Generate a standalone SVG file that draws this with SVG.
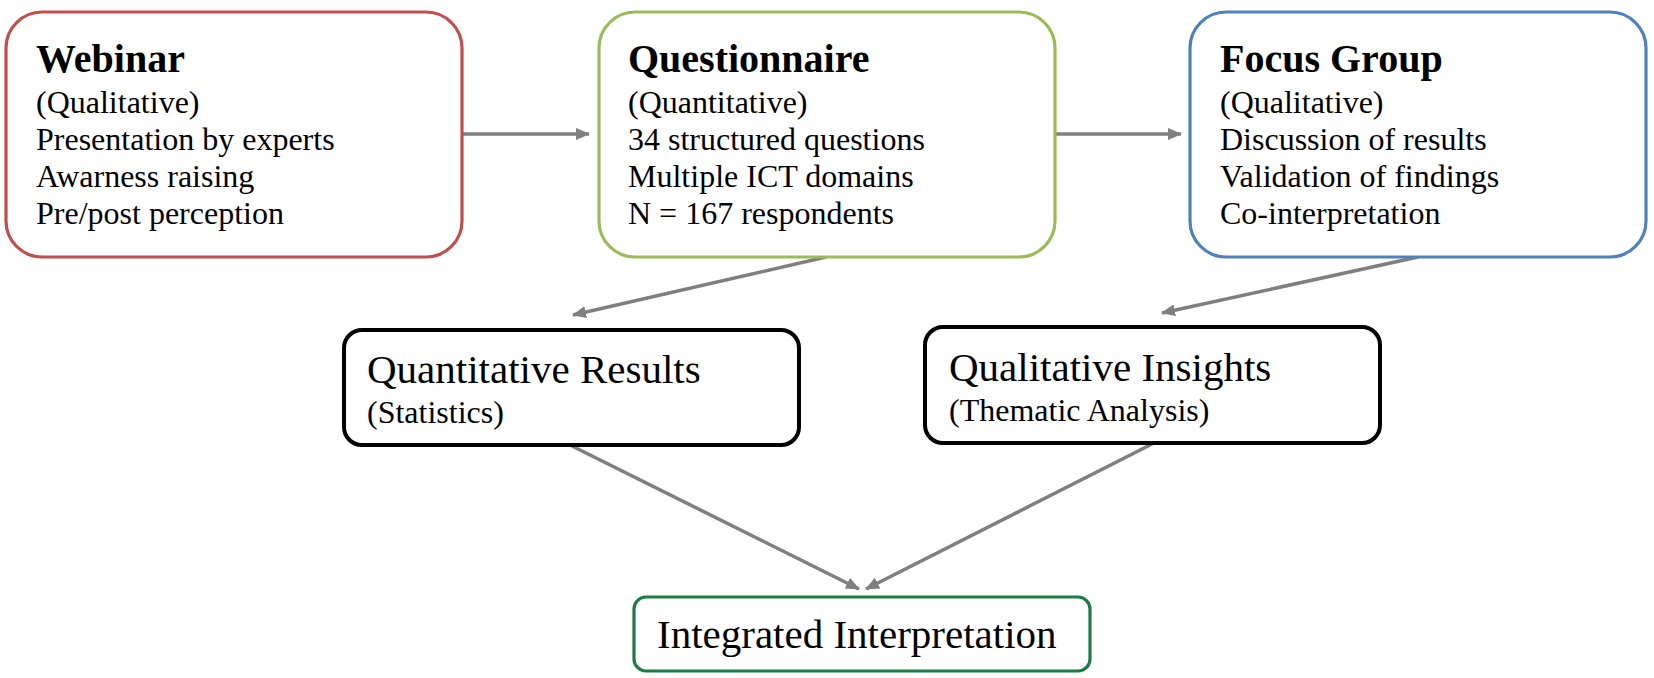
<svg xmlns="http://www.w3.org/2000/svg" width="1654" height="678" viewBox="0 0 1654 678">
<defs>
<style>
.box{fill:#fff;stroke-width:3.2}
.k{stroke-width:4}
.t{font-family:"Liberation Serif","Times New Roman",serif;fill:#000}
.h{font-size:40px;font-weight:bold}
.b{font-size:32px}
.m{font-size:41px}
.s{font-size:32px}
.c{stroke:#7F7F7F;stroke-width:3.5;fill:none;marker-end:url(#ah)}
</style>
<marker id="ah" viewBox="0 0 14 12" refX="13" refY="6" markerWidth="14" markerHeight="12" orient="auto" markerUnits="userSpaceOnUse">
<path d="M0,0 L14,6 L0,12 z" fill="#7F7F7F"/>
</marker>
</defs>
<rect width="1654" height="678" fill="#fff"/>
<g id="connectors">
<line class="c" x1="462" y1="134" x2="589" y2="134"/>
<line class="c" x1="1054" y1="134" x2="1181" y2="134"/>
<line class="c" x1="826" y1="257" x2="573" y2="315"/>
<line class="c" x1="1418" y1="257" x2="1162" y2="313"/>
<line class="c" x1="572" y1="446" x2="859" y2="589"/>
<line class="c" x1="1152" y1="444" x2="866" y2="589"/>
</g>
<g id="webinar">
<rect class="box" x="6" y="12" width="456" height="245" rx="36" stroke="#C0504D"/>
<text class="t h" x="36" y="72">Webinar</text>
<text class="t b" x="36" y="113">(Qualitative)</text>
<text class="t b" x="36" y="150">Presentation by experts</text>
<text class="t b" x="36" y="187">Awarness raising</text>
<text class="t b" x="36" y="224">Pre/post perception</text>
</g>
<g id="questionnaire">
<rect class="box" x="599" y="12" width="456" height="245" rx="36" stroke="#9BBB59"/>
<text class="t h" x="628" y="72">Questionnaire</text>
<text class="t b" x="628" y="113">(Quantitative)</text>
<text class="t b" x="628" y="150">34 structured questions</text>
<text class="t b" x="628" y="187">Multiple ICT domains</text>
<text class="t b" x="628" y="224">N = 167 respondents</text>
</g>
<g id="focus-group">
<rect class="box" x="1190" y="12" width="456" height="245" rx="36" stroke="#4F81BD"/>
<text class="t h" x="1220" y="72">Focus Group</text>
<text class="t b" x="1220" y="113">(Qualitative)</text>
<text class="t b" x="1220" y="150">Discussion of results</text>
<text class="t b" x="1220" y="187">Validation of findings</text>
<text class="t b" x="1220" y="224">Co-interpretation</text>
</g>
<g id="quantitative-results">
<rect class="box k" x="344" y="330" width="455" height="115" rx="18" stroke="#000"/>
<text class="t m" x="367" y="383">Quantitative Results</text>
<text class="t s" x="367" y="423">(Statistics)</text>
</g>
<g id="qualitative-insights">
<rect class="box k" x="925" y="327" width="455" height="116" rx="18" stroke="#000"/>
<text class="t m" x="949" y="381">Qualitative Insights</text>
<text class="t s" x="949" y="421">(Thematic Analysis)</text>
</g>
<g id="integrated-interpretation">
<rect class="box" x="634" y="597" width="456" height="74" rx="12" stroke="#1E7B45" stroke-width="3.5"/>
<text class="t m" x="657" y="648">Integrated Interpretation</text>
</g>
</svg>
